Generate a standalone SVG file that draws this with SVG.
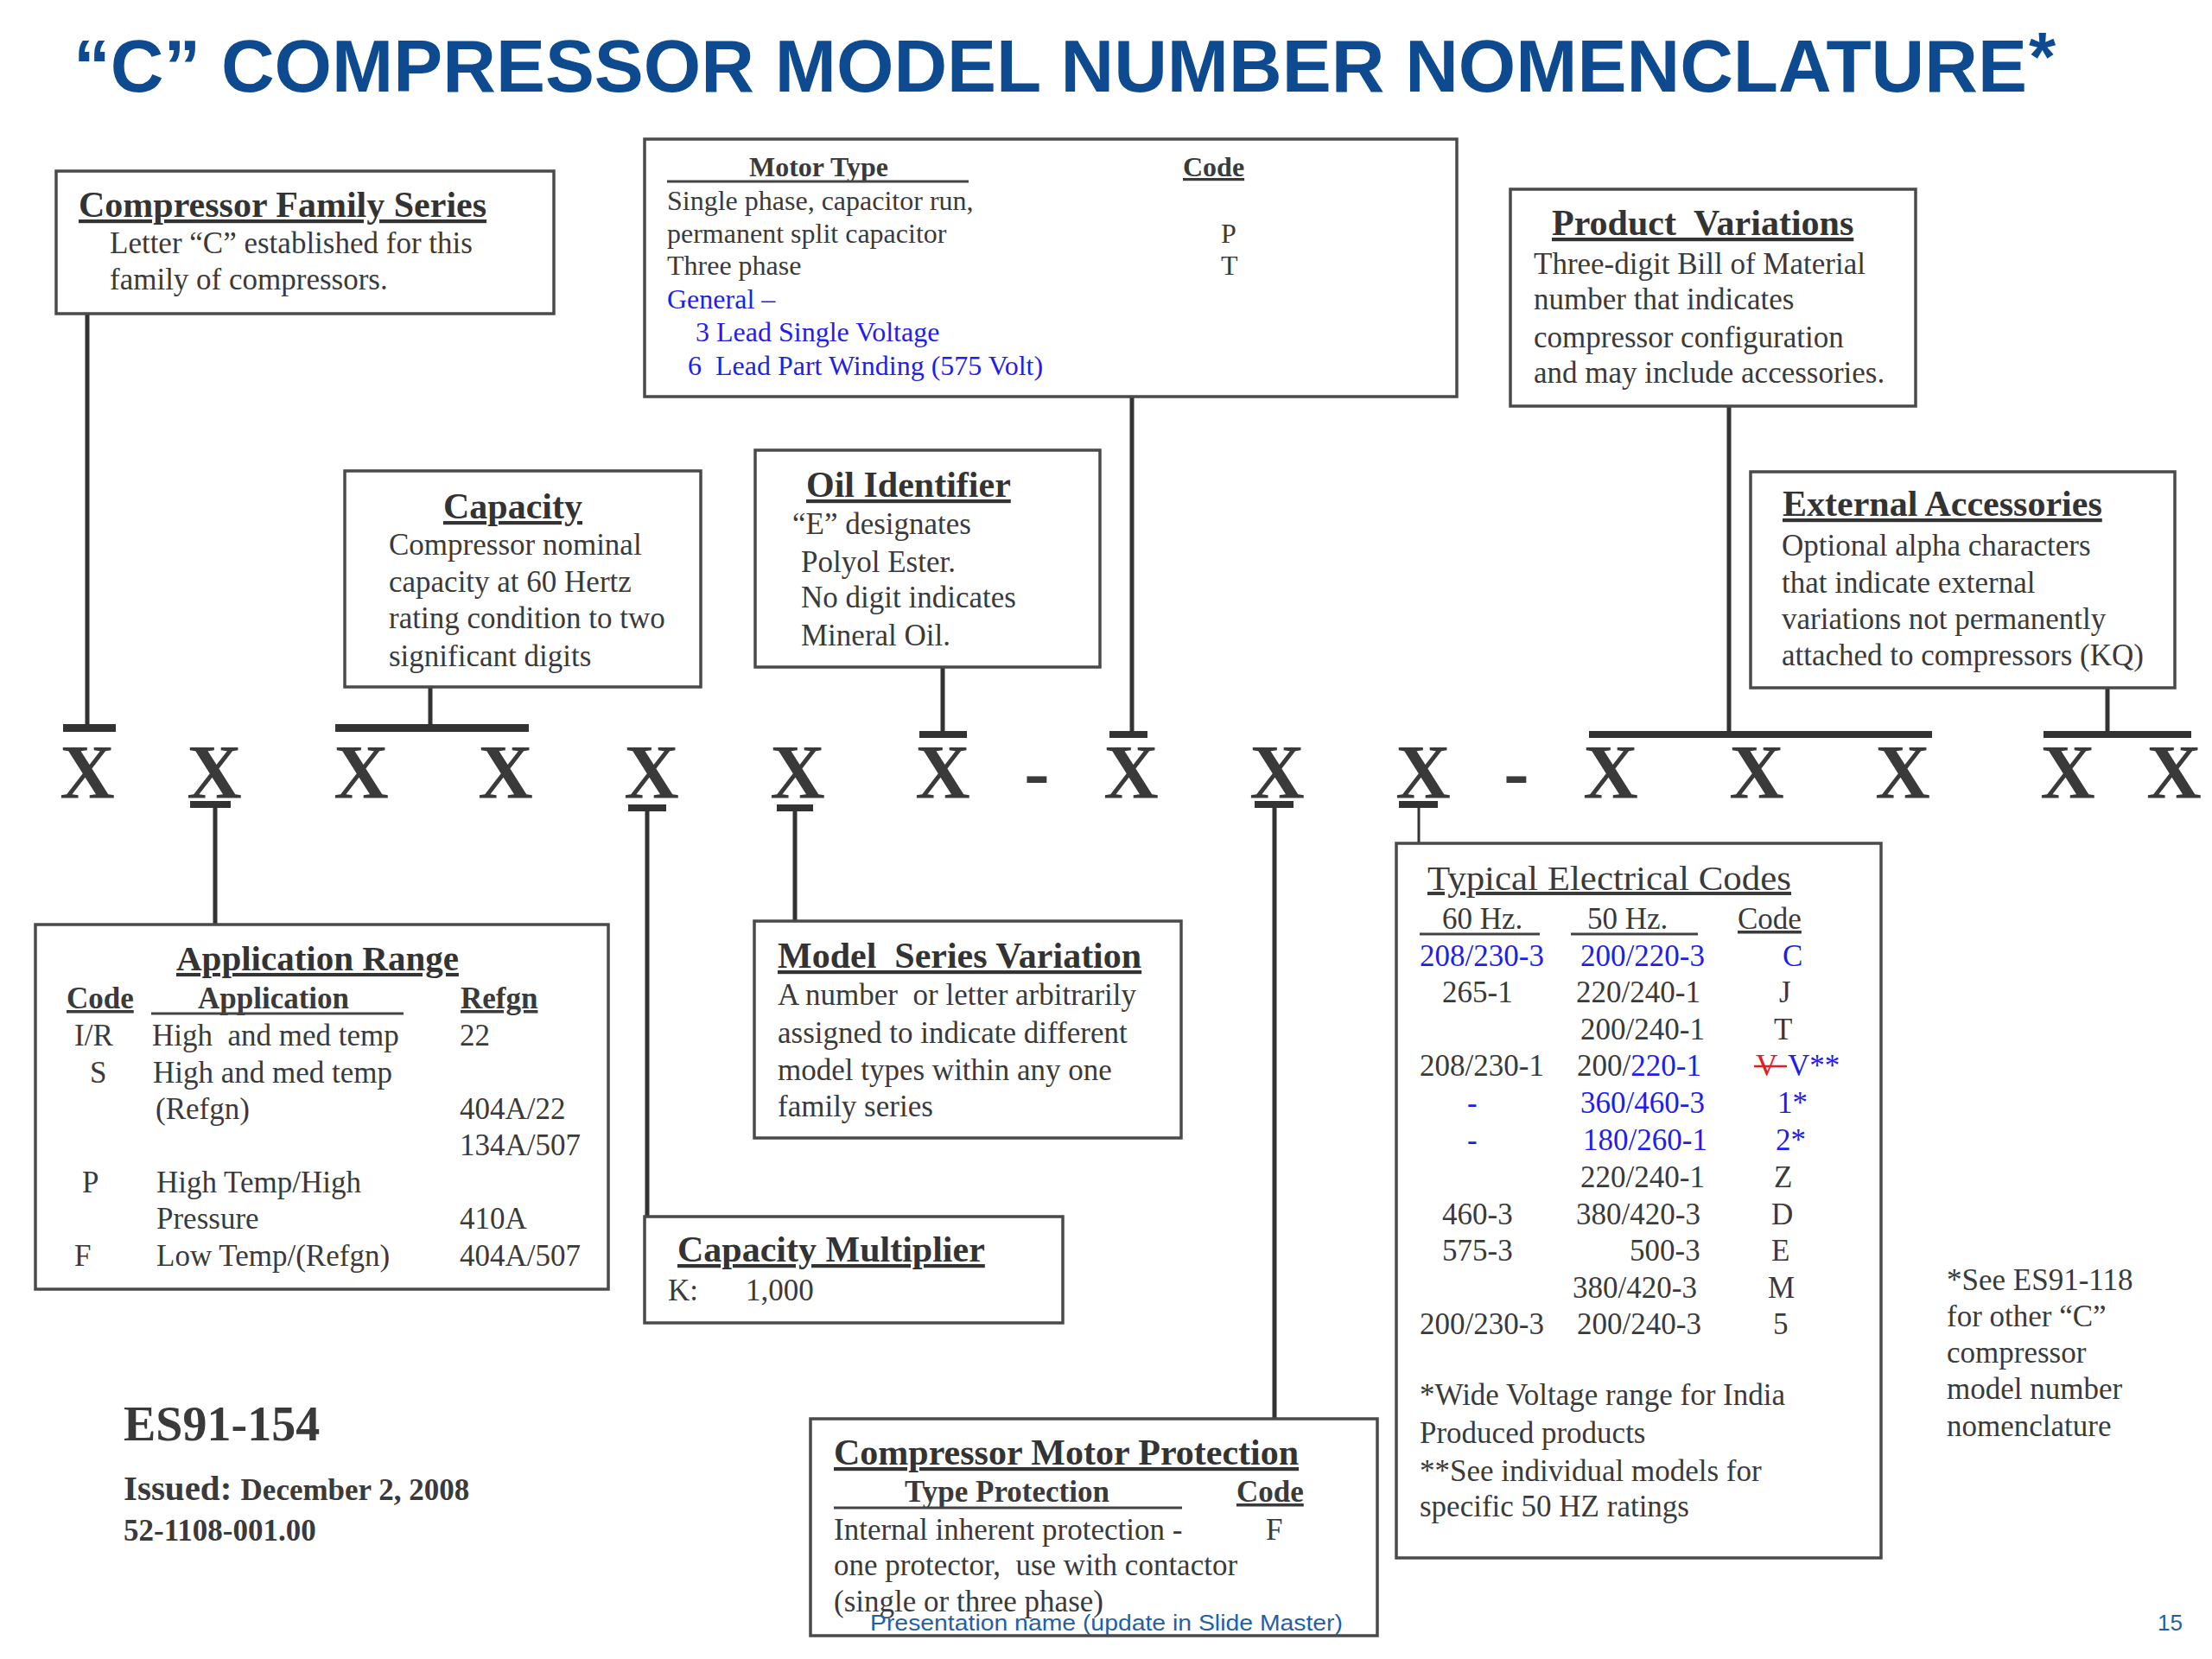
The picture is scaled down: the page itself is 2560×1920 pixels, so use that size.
<svg xmlns="http://www.w3.org/2000/svg" width="2560" height="1920" viewBox="0 0 2560 1920">
<style>
  .bg{fill:#ffffff}
  .box{fill:#ffffff;stroke:#4a4a4a;stroke-width:3.5}
  .t{font-family:"Liberation Serif","Times New Roman",serif;fill:#3a3a3a}
  .h{font-family:"Liberation Serif","Times New Roman",serif;fill:#333;font-weight:bold;font-size:42px;text-decoration:underline}
  .b{font-size:35px}
  .m{font-size:32px}
  .hb{font-weight:bold}
  .u{text-decoration:underline}
  .blue{fill:#1f1fe6}
  .x{font-family:"Liberation Serif","Times New Roman",serif;font-weight:bold;font-size:88px;fill:#3a3a3a;text-anchor:middle}
  .ln{stroke:#333;stroke-width:5}
  .bar{fill:#333}
  .ul{stroke:#444;stroke-width:3}
</style>
<rect class="bg" x="0" y="0" width="2560" height="1920"/>

<g id="title">
  <text x="85" y="106" font-family="'Liberation Sans',Arial,sans-serif" font-weight="bold" font-size="85" fill="#0D4A8F" textLength="2261" lengthAdjust="spacingAndGlyphs">“C” COMPRESSOR MODEL NUMBER NOMENCLATURE</text>
  <text x="2348" y="93" font-family="'Liberation Sans',Arial,sans-serif" font-weight="bold" font-size="80" fill="#0D4A8F">*</text>
</g>

<g id="connectors">
  <line class="ln" x1="101" y1="363" x2="101" y2="840"/>
  <rect class="bar" x="73" y="838" width="61" height="9"/>
  <line class="ln" x1="498" y1="795" x2="498" y2="840"/>
  <rect class="bar" x="388" y="838" width="224" height="9"/>
  <rect class="bar" x="220" y="927" width="47" height="8"/>
  <line class="ln" x1="249" y1="933" x2="249" y2="1070"/>
  <rect class="bar" x="727" y="931" width="44" height="8"/>
  <line class="ln" x1="749" y1="937" x2="749" y2="1408"/>
  <rect class="bar" x="899" y="931" width="42" height="8"/>
  <line class="ln" x1="920" y1="937" x2="920" y2="1066"/>
  <line class="ln" x1="1091" y1="772" x2="1091" y2="848"/>
  <rect class="bar" x="1064" y="846" width="55" height="8"/>
  <line class="ln" x1="1310" y1="459" x2="1310" y2="848"/>
  <rect class="bar" x="1284" y="846" width="44" height="8"/>
  <rect class="bar" x="1452" y="927" width="45" height="8"/>
  <line class="ln" x1="1475" y1="933" x2="1475" y2="1642"/>
  <rect class="bar" x="1619" y="927" width="45" height="8"/>
  <line class="ln" x1="1642" y1="933" x2="1642" y2="976" style="stroke-width:3"/>
  <line class="ln" x1="2001" y1="470" x2="2001" y2="848"/>
  <rect class="bar" x="1839" y="846" width="397" height="8"/>
  <line class="ln" x1="2439" y1="796" x2="2439" y2="848"/>
  <rect class="bar" x="2365" y="846" width="171" height="8"/>
</g>

<g id="model-code">
  <text class="x" x="101" y="923">X</text>
  <text class="x" x="248" y="923">X</text>
  <text class="x" x="418" y="923">X</text>
  <text class="x" x="585" y="923">X</text>
  <text class="x" x="754" y="923">X</text>
  <text class="x" x="923" y="923">X</text>
  <text class="x" x="1091" y="923">X</text>
  <text class="x" x="1200" y="923">-</text>
  <text class="x" x="1309" y="923">X</text>
  <text class="x" x="1478" y="923">X</text>
  <text class="x" x="1647" y="923">X</text>
  <text class="x" x="1755" y="923">-</text>
  <text class="x" x="1864" y="923">X</text>
  <text class="x" x="2033" y="923">X</text>
  <text class="x" x="2202" y="923">X</text>
  <text class="x" x="2393" y="923">X</text>
  <text class="x" x="2516" y="923">X</text>
</g>

<g id="family-series">
  <rect class="box" x="65" y="198" width="576" height="165"/>
  <text class="h" x="91" y="251">Compressor Family Series</text>
  <text class="t b" x="127" y="293">Letter “C” established for this</text>
  <text class="t b" x="127" y="335">family of compressors.</text>
</g>

<g id="capacity">
  <rect class="box" x="399" y="545" width="412" height="250"/>
  <text class="h" x="513" y="600">Capacity</text>
  <text class="t b" x="450" y="642">Compressor nominal</text>
  <text class="t b" x="450" y="685">capacity at 60 Hertz</text>
  <text class="t b" x="450" y="727">rating condition to two</text>
  <text class="t b" x="450" y="771">significant digits</text>
</g>

<g id="motor-type">
  <rect class="box" x="746" y="161" width="940" height="298"/>
  <text class="t m hb" x="867" y="204">Motor Type</text>
  <line class="ul" x1="772" y1="210" x2="1121" y2="210"/>
  <text class="t m hb u" x="1369" y="204">Code</text>
  <text class="t m" x="772" y="243">Single phase, capacitor run,</text>
  <text class="t m" x="772" y="281">permanent split capacitor</text>
  <text class="t m" x="1413" y="281">P</text>
  <text class="t m" x="772" y="318">Three phase</text>
  <text class="t m" x="1413" y="318">T</text>
  <text class="t m blue" x="772" y="357">General –</text>
  <text class="t m blue" x="805" y="395">3 Lead Single Voltage</text>
  <text class="t m blue" x="796" y="434" xml:space="preserve">6  Lead Part Winding (575 Volt)</text>
</g>

<g id="oil-identifier">
  <rect class="box" x="874" y="521" width="399" height="251"/>
  <text class="h" x="933" y="575">Oil Identifier</text>
  <text class="t b" x="917" y="618">“E” designates</text>
  <text class="t b" x="927" y="662">Polyol Ester.</text>
  <text class="t b" x="927" y="703">No digit indicates</text>
  <text class="t b" x="927" y="747">Mineral Oil.</text>
</g>

<g id="product-variations">
  <rect class="box" x="1748" y="219" width="469" height="251"/>
  <text class="h" x="1796" y="272" xml:space="preserve">Product  Variations</text>
  <text class="t b" x="1775" y="317">Three-digit Bill of Material</text>
  <text class="t b" x="1775" y="358">number that indicates</text>
  <text class="t b" x="1775" y="402">compressor configuration</text>
  <text class="t b" x="1775" y="443">and may include accessories.</text>
</g>

<g id="external-accessories">
  <rect class="box" x="2026" y="546" width="491" height="250"/>
  <text class="h" x="2063" y="597">External Accessories</text>
  <text class="t b" x="2062" y="643">Optional alpha characters</text>
  <text class="t b" x="2062" y="686">that indicate external</text>
  <text class="t b" x="2062" y="728">variations not permanently</text>
  <text class="t b" x="2062" y="770">attached to compressors (KQ)</text>
</g>

<g id="application-range">
  <rect class="box" x="41" y="1070" width="663" height="422"/>
  <text class="h" x="204" y="1123" style="font-size:41px">Application Range</text>
  <text class="t b hb u" x="77" y="1167">Code</text>
  <text class="t b hb" x="229" y="1167">Application</text>
  <line class="ul" x1="175" y1="1173" x2="467" y2="1173"/>
  <text class="t b hb u" x="533" y="1167">Refgn</text>
  <text class="t b" x="86" y="1210">I/R</text>
  <text class="t b" x="176" y="1210" xml:space="preserve">High  and med temp</text>
  <text class="t b" x="532" y="1210">22</text>
  <text class="t b" x="104" y="1253">S</text>
  <text class="t b" x="177" y="1253">High and med temp</text>
  <text class="t b" x="180" y="1295">(Refgn)</text>
  <text class="t b" x="532" y="1295">404A/22</text>
  <text class="t b" x="532" y="1337">134A/507</text>
  <text class="t b" x="95" y="1380">P</text>
  <text class="t b" x="181" y="1380">High Temp/High</text>
  <text class="t b" x="181" y="1422">Pressure</text>
  <text class="t b" x="532" y="1422">410A</text>
  <text class="t b" x="86" y="1465">F</text>
  <text class="t b" x="181" y="1465">Low Temp/(Refgn)</text>
  <text class="t b" x="532" y="1465">404A/507</text>
</g>

<g id="model-series-variation">
  <rect class="box" x="873" y="1066" width="494" height="251"/>
  <text class="h" x="900" y="1120" xml:space="preserve">Model  Series Variation</text>
  <text class="t b" x="900" y="1163" xml:space="preserve">A number  or letter arbitrarily</text>
  <text class="t b" x="900" y="1207">assigned to indicate different</text>
  <text class="t b" x="900" y="1250">model types within any one</text>
  <text class="t b" x="900" y="1292">family series</text>
</g>

<g id="capacity-multiplier">
  <rect class="box" x="746" y="1408" width="484" height="123"/>
  <text class="h" x="784" y="1460">Capacity Multiplier</text>
  <text class="t b" x="773" y="1505">K:</text>
  <text class="t b" x="863" y="1505">1,000</text>
</g>

<g id="motor-protection">
  <rect class="box" x="938" y="1642" width="656" height="251"/>
  <text class="h" x="965" y="1695">Compressor Motor Protection</text>
  <text class="t b hb" x="1047" y="1738">Type Protection</text>
  <line class="ul" x1="965" y1="1745" x2="1368" y2="1745"/>
  <text class="t b hb u" x="1431" y="1738">Code</text>
  <text class="t b" x="965" y="1782">Internal inherent protection -</text>
  <text class="t b" x="1465" y="1782">F</text>
  <text class="t b" x="965" y="1823" xml:space="preserve">one protector,  use with contactor</text>
  <text class="t b" x="965" y="1865">(single or three phase)</text>
</g>

<g id="electrical-codes">
  <rect class="box" x="1616" y="976" width="561" height="827"/>
  <text class="t u" x="1652" y="1030" font-size="40" textLength="421" lengthAdjust="spacingAndGlyphs">Typical Electrical Codes</text>
  <text class="t b" x="1669" y="1075">60 Hz.</text>
  <line class="ul" x1="1643" y1="1081" x2="1782" y2="1081"/>
  <text class="t b" x="1837" y="1075">50 Hz.</text>
  <line class="ul" x1="1818" y1="1081" x2="1965" y2="1081"/>
  <text class="t b u" x="2011" y="1075">Code</text>

  <text class="t b blue" x="1643" y="1118">208/230-3</text>
  <text class="t b blue" x="1829" y="1118">200/220-3</text>
  <text class="t b blue" x="2063" y="1118">C</text>

  <text class="t b" x="1669" y="1160">265-1</text>
  <text class="t b" x="1824" y="1160">220/240-1</text>
  <text class="t b" x="2059" y="1160">J</text>

  <text class="t b" x="1829" y="1203">200/240-1</text>
  <text class="t b" x="2053" y="1203">T</text>

  <text class="t b" x="1643" y="1245">208/230-1</text>
  <text class="t b" x="1825" y="1245">200/<tspan class="blue">220-1</tspan></text>
  <text class="t b" x="2032" y="1245" style="fill:#e02020">V</text>
  <line x1="2030" y1="1234" x2="2068" y2="1234" stroke="#e02020" stroke-width="2.5"/>
  <text class="t b blue" x="2069" y="1245">V**</text>

  <text class="t b blue" x="1698" y="1288">-</text>
  <text class="t b blue" x="1829" y="1288">360/460-3</text>
  <text class="t b blue" x="2057" y="1288">1*</text>

  <text class="t b blue" x="1698" y="1331">-</text>
  <text class="t b blue" x="1832" y="1331">180/260-1</text>
  <text class="t b blue" x="2055" y="1331">2*</text>

  <text class="t b" x="1829" y="1374">220/240-1</text>
  <text class="t b" x="2053" y="1374">Z</text>

  <text class="t b" x="1669" y="1417">460-3</text>
  <text class="t b" x="1824" y="1417">380/420-3</text>
  <text class="t b" x="2050" y="1417">D</text>

  <text class="t b" x="1669" y="1459">575-3</text>
  <text class="t b" x="1886" y="1459">500-3</text>
  <text class="t b" x="2050" y="1459">E</text>

  <text class="t b" x="1820" y="1502">380/420-3</text>
  <text class="t b" x="2046" y="1502">M</text>

  <text class="t b" x="1643" y="1544">200/230-3</text>
  <text class="t b" x="1825" y="1544">200/240-3</text>
  <text class="t b" x="2052" y="1544">5</text>

  <text class="t b" x="1643" y="1626">*Wide Voltage range for India</text>
  <text class="t b" x="1643" y="1670">Produced products</text>
  <text class="t b" x="1643" y="1714">**See individual models for</text>
  <text class="t b" x="1643" y="1755">specific 50 HZ ratings</text>
</g>

<g id="see-note">
  <text class="t b" x="2253" y="1493">*See ES91-118</text>
  <text class="t b" x="2253" y="1535">for other “C”</text>
  <text class="t b" x="2253" y="1577">compressor</text>
  <text class="t b" x="2253" y="1619">model number</text>
  <text class="t b" x="2253" y="1662">nomenclature</text>
</g>

<g id="doc-info">
  <text class="t hb" x="143" y="1667" font-size="56">ES91-154</text>
  <text class="t hb" x="143" y="1736" font-size="41">Issued: <tspan font-size="35">December 2, 2008</tspan></text>
  <text class="t hb" x="143" y="1783" font-size="35">52-1108-001.00</text>
</g>

<g id="footer">
  <text x="1007" y="1887" font-family="'Liberation Sans',Arial,sans-serif" font-size="26" fill="#1f5fa8" textLength="547" lengthAdjust="spacingAndGlyphs">Presentation name (update in Slide Master)</text>
  <text x="2497" y="1887" font-family="'Liberation Sans',Arial,sans-serif" font-size="26" fill="#1f5fa8">15</text>
</g>
</svg>
